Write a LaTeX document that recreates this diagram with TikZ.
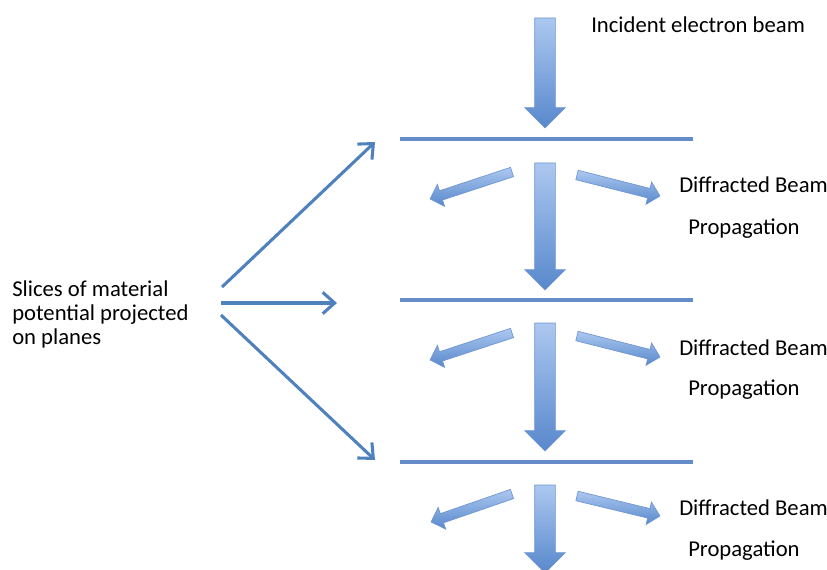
\documentclass[tikz,border=0pt]{standalone}
\usepackage{fontspec}
\setmainfont{Carlito}
\usetikzlibrary{shapes.arrows,arrows.meta,calc}

\definecolor{beamlight}{RGB}{172,200,240}
\definecolor{beamdark}{RGB}{88,136,204}
\definecolor{beamedge}{RGB}{110,150,210}
\definecolor{planeblue}{RGB}{100,140,200}
\definecolor{lineblue}{RGB}{79,129,189}

% fat arrow node stretched between two named coordinates
\newcommand{\fatarrow}[4][beam]{%
  \path let \p1=($(#4)-(#3)$), \n1={atan2(\y1,\x1)}, \n2={veclen(\x1,\y1)} in
    node[#1, minimum height=\n2, rotate=\n1, anchor=tail] (#2) at (#3) {};}

\begin{document}
\begin{tikzpicture}[x=0.75pt, y=-0.75pt,
    beam/.style={single arrow, draw=beamedge, line width=0.5pt,
        top color=beamlight, bottom color=beamdark,
        inner xsep=0pt, inner ysep=7.5pt, outer sep=0pt,
        single arrow head extend=7.5pt, single arrow tip angle=90},
    smallbeam/.style={beam, inner ysep=3.4pt, single arrow head extend=5pt},
    plane/.style={draw=planeblue, line width=3pt},
    pointer/.style={draw=lineblue, line width=2.3pt,
        -{Straight Barb[length=9pt,width=16pt]}},
    label/.style={font=\fontsize{17}{18}\selectfont, anchor=west, inner sep=0pt}
]
    \clip (0,0) rectangle (827,570);

    % incident beam
    \coordinate (in0) at (545,18);
    \coordinate (in1) at (545,128);
    \fatarrow{incident}{in0}{in1}
    \node[label] (incidenttext) at (591,25) {Incident electron beam};

    % planes
    \coordinate (p1a) at (400,139);
    \coordinate (p1b) at (693,139);
    \coordinate (p2a) at (400,300);
    \coordinate (p2b) at (693,300);
    \coordinate (p3a) at (400,462);
    \coordinate (p3b) at (693,462);
    \draw[plane] (p1a) -- (p1b);
    \draw[plane] (p2a) -- (p2b);
    \draw[plane] (p3a) -- (p3b);

    % first slice
    \coordinate (d1a) at (545,163);
    \coordinate (d1b) at (545,290);
    \coordinate (l1a) at (512,172);
    \coordinate (l1b) at (430,199);
    \coordinate (r1a) at (577,175);
    \coordinate (r1b) at (660,196);
    \fatarrow{down1}{d1a}{d1b}
    \fatarrow[smallbeam]{left1}{l1a}{l1b}
    \fatarrow[smallbeam]{right1}{r1a}{r1b}
    \node[label] (diff1) at (679,185) {Diffracted Beam};
    \node[label] (prop1) at (688,229) {Propagation};

    % second slice
    \coordinate (d2a) at (545,323);
    \coordinate (d2b) at (545,451);
    \coordinate (l2a) at (512,333);
    \coordinate (l2b) at (430,360);
    \coordinate (r2a) at (577,336);
    \coordinate (r2b) at (660,357);
    \fatarrow{down2}{d2a}{d2b}
    \fatarrow[smallbeam]{left2}{l2a}{l2b}
    \fatarrow[smallbeam]{right2}{r2a}{r2b}
    \node[label] (diff2) at (679,348) {Diffracted Beam};
    \node[label] (prop2) at (688,390) {Propagation};

    % third slice
    \coordinate (d3a) at (545,485);
    \coordinate (d3b) at (545,573);
    \coordinate (l3a) at (512,494);
    \coordinate (l3b) at (431,522);
    \coordinate (r3a) at (577,496);
    \coordinate (r3b) at (660,516);
    \fatarrow{down3}{d3a}{d3b}
    \fatarrow[smallbeam]{left3}{l3a}{l3b}
    \fatarrow[smallbeam]{right3}{r3a}{r3b}
    \node[label] (diff3) at (679,508) {Diffracted Beam};
    \node[label] (prop3) at (688,551) {Propagation};

    % slices label and pointers
    \node[label, align=left] (slices) at (12,314)
        {Slices of material\\potential projected\\on planes};
    \coordinate (s1) at (222,287);
    \coordinate (t1) at (375,142);
    \coordinate (s2) at (221,303);
    \coordinate (t2) at (337,303);
    \coordinate (s3) at (221,315);
    \coordinate (t3) at (375,460);
    \draw[pointer] (s1) -- (t1);
    \draw[pointer] (s2) -- (t2);
    \draw[pointer] (s3) -- (t3);
\end{tikzpicture}
\end{document}
